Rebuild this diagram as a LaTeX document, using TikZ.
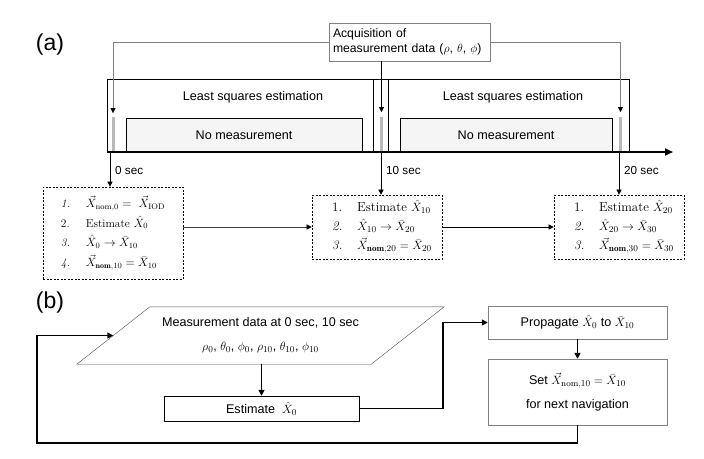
\documentclass[tikz,border=0pt]{standalone}
\usepackage{amsmath}
\usepackage{fontspec}
\setsansfont{Liberation Sans}
\usetikzlibrary{arrows.meta}
\renewcommand{\arraystretch}{1.4}

\tikzset{
  sf/.style={font=\sffamily\fontsize{12.6}{15}\selectfont},
  tag/.style={font=\sffamily\fontsize{23}{26}\selectfont},
  navbox/.style={draw,dash pattern=on 2pt off 1.5pt,line width=0.6pt,inner sep=0pt},
  flow/.style={line width=1.6pt,-{Triangle[length=6pt,width=6pt]}}
}

\begin{document}
\begin{tikzpicture}[x=1pt,y=-1pt,>={Triangle[length=5pt,width=5pt,black]}]
    \useasboundingbox (0,0) rectangle (704,458);
    % (a)
    \node[tag] (lbla) at (50,45) {(a)};
    \node[draw=gray,font=\sffamily\fontsize{12.2}{15}\selectfont,align=left,text width=153pt,inner xsep=4pt,minimum height=38pt] (acq) at (409.5,42)
      {Acquisition of\\measurement data ($\rho$, $\theta$, $\phi$)};
    \draw[line width=0.8pt] (107,152) |- (629,79) -- (629,152);
    \draw[line width=0.8pt] (373,79) -- (373,152) (388,79) -- (388,152);
    \draw[line width=1.4pt] (107.3,79) -- (107.3,152);
    \node[sf] (lse1) at (253,97) {Least squares estimation};
    \node[sf] (lse2) at (513,97) {Least squares estimation};
    \node[draw,fill=gray!8,sf,minimum width=236pt,minimum height=34pt] (nm1) at (244,135) {No measurement};
    \node[draw,fill=gray!8,sf,minimum width=212pt,minimum height=34pt] (nm2) at (506,135) {No measurement};
    \foreach \x in {113,381.5,620.5}
    {
      \fill[gray!55] (\x-1.5,117) rectangle (\x+1.5,151);
    }
    \draw[line width=2pt,-{Triangle[length=8pt,width=7pt]}] (107,152) -- (673,152);
    \coordinate (m0) at (113,113);
    \coordinate (m10) at (381.5,112);
    \coordinate (m20) at (620.5,112);
    \draw[gray,->] (acq.west) -| (m0);
    \draw[gray,->] (acq.east) -| (m20);
    \draw[->] (acq.south -| m10) -- (m10);
    \foreach \x/\t in {110/0,381/10,619/20}
    {
      \coordinate (k\t) at (\x,153);
      \node[font=\sffamily\fontsize{11.7}{14}\selectfont,anchor=west,inner sep=0pt] (s\t) at (\x+5,170) {\t\ sec};
    }
    \node[navbox,font=\fontsize{11.5}{14}\selectfont,minimum width=140pt,minimum height=92pt] (b1) at (113,233)
      {\begin{tabular}{@{}p{25pt}@{}l@{}}
        \textit{1.} & $\vec{X}_{\mathrm{nom},0} = \ \vec{X}_{\mathrm{IOD}}$\\
        2. & Estimate $\hat{X}_0$\\
        \textit{3.} & $\hat{X}_0 \rightarrow \bar{X}_{10}$\\
        \textit{4.} & $\vec{X}_{\mathbf{nom},10} = \bar{X}_{10}$
      \end{tabular}};
    \node[navbox,font=\fontsize{13}{13.5}\selectfont,minimum width=130pt,minimum height=64pt] (b2) at (377,227)
      {\hspace*{10pt}\begin{tabular}{@{}p{25pt}@{}l@{}}
        1. & Estimate $\hat{X}_{10}$\\
        \textit{2.} & $\hat{X}_{10} \rightarrow \bar{X}_{20}$\\
        \textit{3.} & $\vec{X}_{\mathbf{nom},20} = \bar{X}_{20}$
      \end{tabular}};
    \node[navbox,font=\fontsize{13}{13.5}\selectfont,minimum width=130pt,minimum height=64pt] (b3) at (619,227)
      {\hspace*{10pt}\begin{tabular}{@{}p{25pt}@{}l@{}}
        1. & Estimate $\hat{X}_{20}$\\
        \textit{2.} & $\hat{X}_{20} \rightarrow \bar{X}_{30}$\\
        \textit{3.} & $\vec{X}_{\mathbf{nom},30} = \bar{X}_{30}$
      \end{tabular}};
    \draw[->] (k0) -- (k0 |- b1.north);
    \draw[->] (k10) -- (k10 |- b2.north);
    \draw[->] (k20) -- (k20 |- b3.north);
    \draw[black!75,->] (b1.east |- b2.west) -- (b2.west);
    \draw[->] (b2.east) -- (b3.west);
    % (b)
    \node[tag] (lblb) at (50,303) {(b)};
    \node[sf,align=center,minimum width=294pt,minimum height=57pt,inner sep=0pt] (md) at (260.5,335.5)
      {Measurement data at 0 sec, 10 sec\\[9pt]
       $\rho_0$, $\theta_0$, $\phi_0$, $\rho_{10}$, $\theta_{10}$, $\phi_{10}$};
    \draw[black!70] ([xshift=36.5pt]md.north west) -- ([xshift=36.5pt]md.north east)
      -- ([xshift=-36.5pt]md.south east) -- ([xshift=-36.5pt]md.south west) -- cycle;
    \node[draw,sf,minimum width=195pt,minimum height=25pt] (est) at (261.5,408.5) {Estimate\ \ $\hat{X}_0$};
    \node[draw=gray,sf,minimum width=179pt,minimum height=33pt] (prop) at (577.5,322.5)
      {Propagate $\hat{X}_0$ to $\bar{X}_{10}$};
    \node[draw=gray,sf,align=center,minimum width=179pt,minimum height=66pt] (set) at (577.5,392)
      {Set $\vec{X}_{\mathrm{nom},10} = \bar{X}_{10}$\\[9pt] for next navigation};
    \draw[flow] (est.north |- md.south) -- (est.north);
    \draw[flow] (est.east) -- ++(84,0) |- (prop.west);
    \draw[flow] (prop.south) -- (set.north);
    \draw[flow] (set.south) |- (37,443) |- (md.west);
  \end{tikzpicture}
\end{document}
